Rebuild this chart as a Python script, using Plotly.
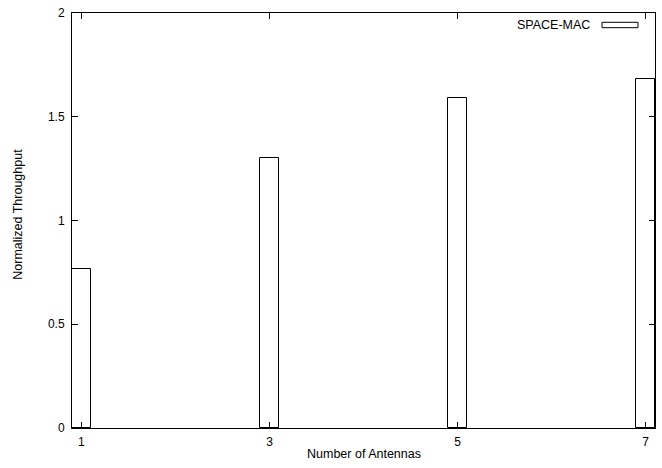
import plotly.graph_objects as go

antennas = [1, 3, 5, 7]
throughput = [0.766, 1.302, 1.59, 1.68]
x_ticks = [1, 3, 5, 7]
y_ticks = [0, 0.5, 1, 1.5, 2]
y_tick_labels = ["0", "0.5", "1", "1.5", "2"]
series_name = "SPACE-MAC"
x_title = "Number of Antennas"
y_title = "Normalized Throughput"

FONT = "Liberation Sans, Arial, sans-serif"
FS = 12.5

fig = go.Figure()
fig.add_trace(go.Bar(
    x=antennas, y=throughput, width=0.2, name=series_name,
    marker=dict(color="white", line=dict(color="black", width=1)),
    showlegend=False,
))

axis_common = dict(
    showline=True, linecolor="black", linewidth=1, mirror="ticks",
    ticks="inside", ticklen=6, tickcolor="black", tickwidth=1,
    showgrid=False, zeroline=False, automargin=False,
    tickfont=dict(family=FONT, size=12, color="black"),
)

fig.update_xaxes(range=[0.9, 7.1], tickvals=x_ticks, ticktext=[str(t) for t in x_ticks],
                 ticklabelstandoff=3, **axis_common)
fig.update_yaxes(range=[0, 2], tickvals=y_ticks, ticktext=y_tick_labels,
                 ticklabelstandoff=4, **axis_common)

L, T, R, B = 72, 13, 655, 428.5
W, H = R - L, B - T

def px(xp):
    return (xp - L) / W

def py(yp):
    return (B - yp) / H

# axis titles
fig.add_annotation(xref="paper", yref="paper", x=px(364), y=py(455), text=x_title,
                   showarrow=False, xanchor="center", yanchor="middle",
                   font=dict(family=FONT, size=FS, color="black"))
fig.add_annotation(xref="paper", yref="paper", x=px(18), y=py(215), text=y_title,
                   showarrow=False, xanchor="center", yanchor="middle", textangle=-90,
                   font=dict(family=FONT, size=FS, color="black"))

# legend drawn manually (gnuplot-style wide key sample)
fig.add_annotation(xref="paper", yref="paper", x=px(592), y=py(25),
                   text=series_name, showarrow=False, xanchor="right", yanchor="middle",
                   font=dict(family=FONT, size=FS, color="black"))
fig.add_shape(type="rect", xref="paper", yref="paper",
              x0=px(602), x1=px(638), y0=py(27.7), y1=py(22.3),
              line=dict(color="black", width=1), fillcolor="white")

fig.update_layout(
    width=662, height=468,
    margin=dict(l=L, r=662 - R, t=T, b=468 - B),
    plot_bgcolor="white", paper_bgcolor="white",
    bargap=0,
)

fig.write_html("out.html", config={"displayModeBar": False},
               post_script="document.body.style.margin='0';document.body.style.overflow='hidden';")
